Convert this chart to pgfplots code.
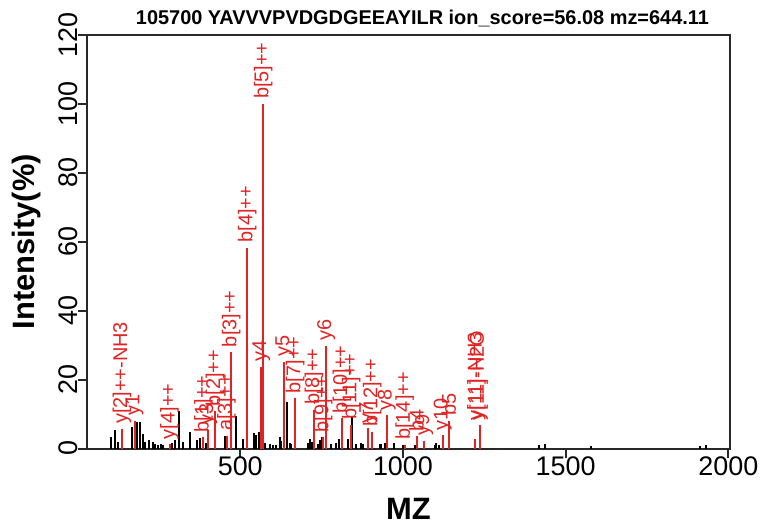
\documentclass[border=0pt]{standalone}
\usepackage{fontspec}
\setmainfont{Liberation Sans}
\usepackage{pgfplots}
\pgfplotsset{compat=1.18}
\definecolor{pkred}{RGB}{225,35,35}
\definecolor{axgray}{RGB}{40,40,40}
\begin{document}
\begin{tikzpicture}
\begin{axis}[
  at={(0,0)}, anchor=south west,
  scale only axis, width=321.5bp, height=206.75bp,
  xmin=28.9, xmax=2005.2, ymin=0, ymax=120,
  xtick={500,1000,1500,2000}, ytick={0,20,...,120},
  xtick pos=bottom, ytick pos=left, tick align=outside,
  major tick length=4.5bp,
  axis line style={draw=axgray, line width=1bp},
  every tick/.style={draw=axgray, line width=1bp},
  /pgf/number format/assume math mode=true,
  /pgf/number format/set thousands separator={},
  tick label style={font=\fontsize{13.5}{15}\selectfont, inner sep=0pt},
  xticklabel style={anchor=center, yshift=-4.5bp},
  yticklabel style={anchor=center, xshift=-5bp, rotate=90},
  xlabel={MZ}, ylabel={Intensity(\%)},
  xlabel style={at={(axis description cs:0.5,-0.1451)}, anchor=center, font=\bfseries\fontsize{15.5}{18}\selectfont, inner sep=0pt},
  ylabel style={at={(axis description cs:-0.0933,0.5)}, anchor=center, font=\bfseries\fontsize{15.5}{18}\selectfont, inner sep=0pt},
  title={105700 YAVVVPVDGDGEEAYILR ion\_score=56.08 mz=644.11},
  title style={at={(axis description cs:0.5,1.0266)}, anchor=base, xshift=7bp, yshift=-6bp, font=\bfseries\fontsize{10}{12}\selectfont, inner sep=0pt},
]
% unmatched peaks
\addplot[ycomb, draw=black, line width=1bp, mark=none] table {
x y
102.3 3.4
114.6 5.5
124.7 2.0
167.7 6.2
183.0 7.8
191.3 7.8
199.6 4.2
206.7 2.0
219.9 2.6
230.3 2.0
237.4 1.2
246.6 1.0
255.8 1.3
262.0 1.0
288.7 1.5
298.8 2.5
311.1 10.9
324.3 2.0
344.9 4.8
368.0 2.6
377.0 3.0
394.0 1.5
452.4 3.5
485.9 9.4
508.6 2.9
519.3 1.6
541.5 4.5
549.8 4.0
557.4 4.7
575.3 1.5
590.6 1.2
600.7 0.9
609.0 1.0
621.3 3.3
626.5 2.3
643.7 13.4
652.0 1.5
657.2 1.2
708.2 1.5
715.6 2.7
721.7 2.0
739.0 1.2
746.3 2.5
752.5 3.3
780.1 1.2
795.5 1.5
803.4 2.7
831.1 2.7
843.0 9.1
854.7 1.2
872.2 1.5
877.2 1.2
928.4 1.2
933.7 1.2
943.8 1.5
972.4 1.5
1000.0 0.9
1036.0 1.0
1097.4 1.0
1102.6 1.5
1110.6 1.0
1417.4 1.0
1435.2 1.3
1579.5 0.8
1913.4 0.8
1931.8 0.9
};
% matched peaks without own label
\addplot[ycomb, draw=pkred, line width=1bp, mark=none] table {
x y
1220.54 2.7
1237.57 6.9
};
% matched peaks with labels
\addplot[ycomb, draw=pkred, line width=1bp, mark=none,
  nodes near coords, point meta=explicit symbolic,
  nodes near coords style={font=\fontsize{10}{12}\selectfont, text=pkred, anchor=west, rotate=90, inner xsep=2bp, inner ysep=0pt}]
  table[meta=lab] {
x y lab
136.09 5.7 y[2]++-NH3
175.12 8.0 y1
282.68 1.3 y[4]++
386.75 3.3 b[1]++
401.29 5.4 y3
422.27 10.8 b[2]++
457.80 3.7 a[3]++
471.80 28.0 b[3]++
521.34 58.3 b[4]++
564.35 23.7 y4
570.87 100 b[5]++
635.39 25.2 y5
668.93 14.6 b[7]++
726.45 11.2 b[8]++
754.96 3.3 b[9]++
764.43 29.8 y6
812.47 8.8 b[10]++
840.98 6.9 b[11]++
893.47 5.9 y7
905.50 4.9 b[12]++
950.49 9.7 y8
1005.54 1.1 b[14]++
1041.66 3.5 b4
1065.52 2.2 y9
1122.54 3.9 y10
1140.73 8.0 b5
};
% labels of the y[11] cluster
\addplot[draw=none, mark=none,
  nodes near coords, point meta=explicit symbolic,
  nodes near coords style={font=\fontsize{10}{12}\selectfont, text=pkred, anchor=west, rotate=90, inner xsep=2bp, inner ysep=0pt}]
  table[meta=lab] {
x y lab
1226 6.9 y[11]-NH3
1233 6.9 y[11]-H2O
};
\end{axis}
\pgfresetboundingbox
\useasboundingbox (-43.5bp,-38.25bp) rectangle (337.5bp,224.25bp);
\end{tikzpicture}
\end{document}
